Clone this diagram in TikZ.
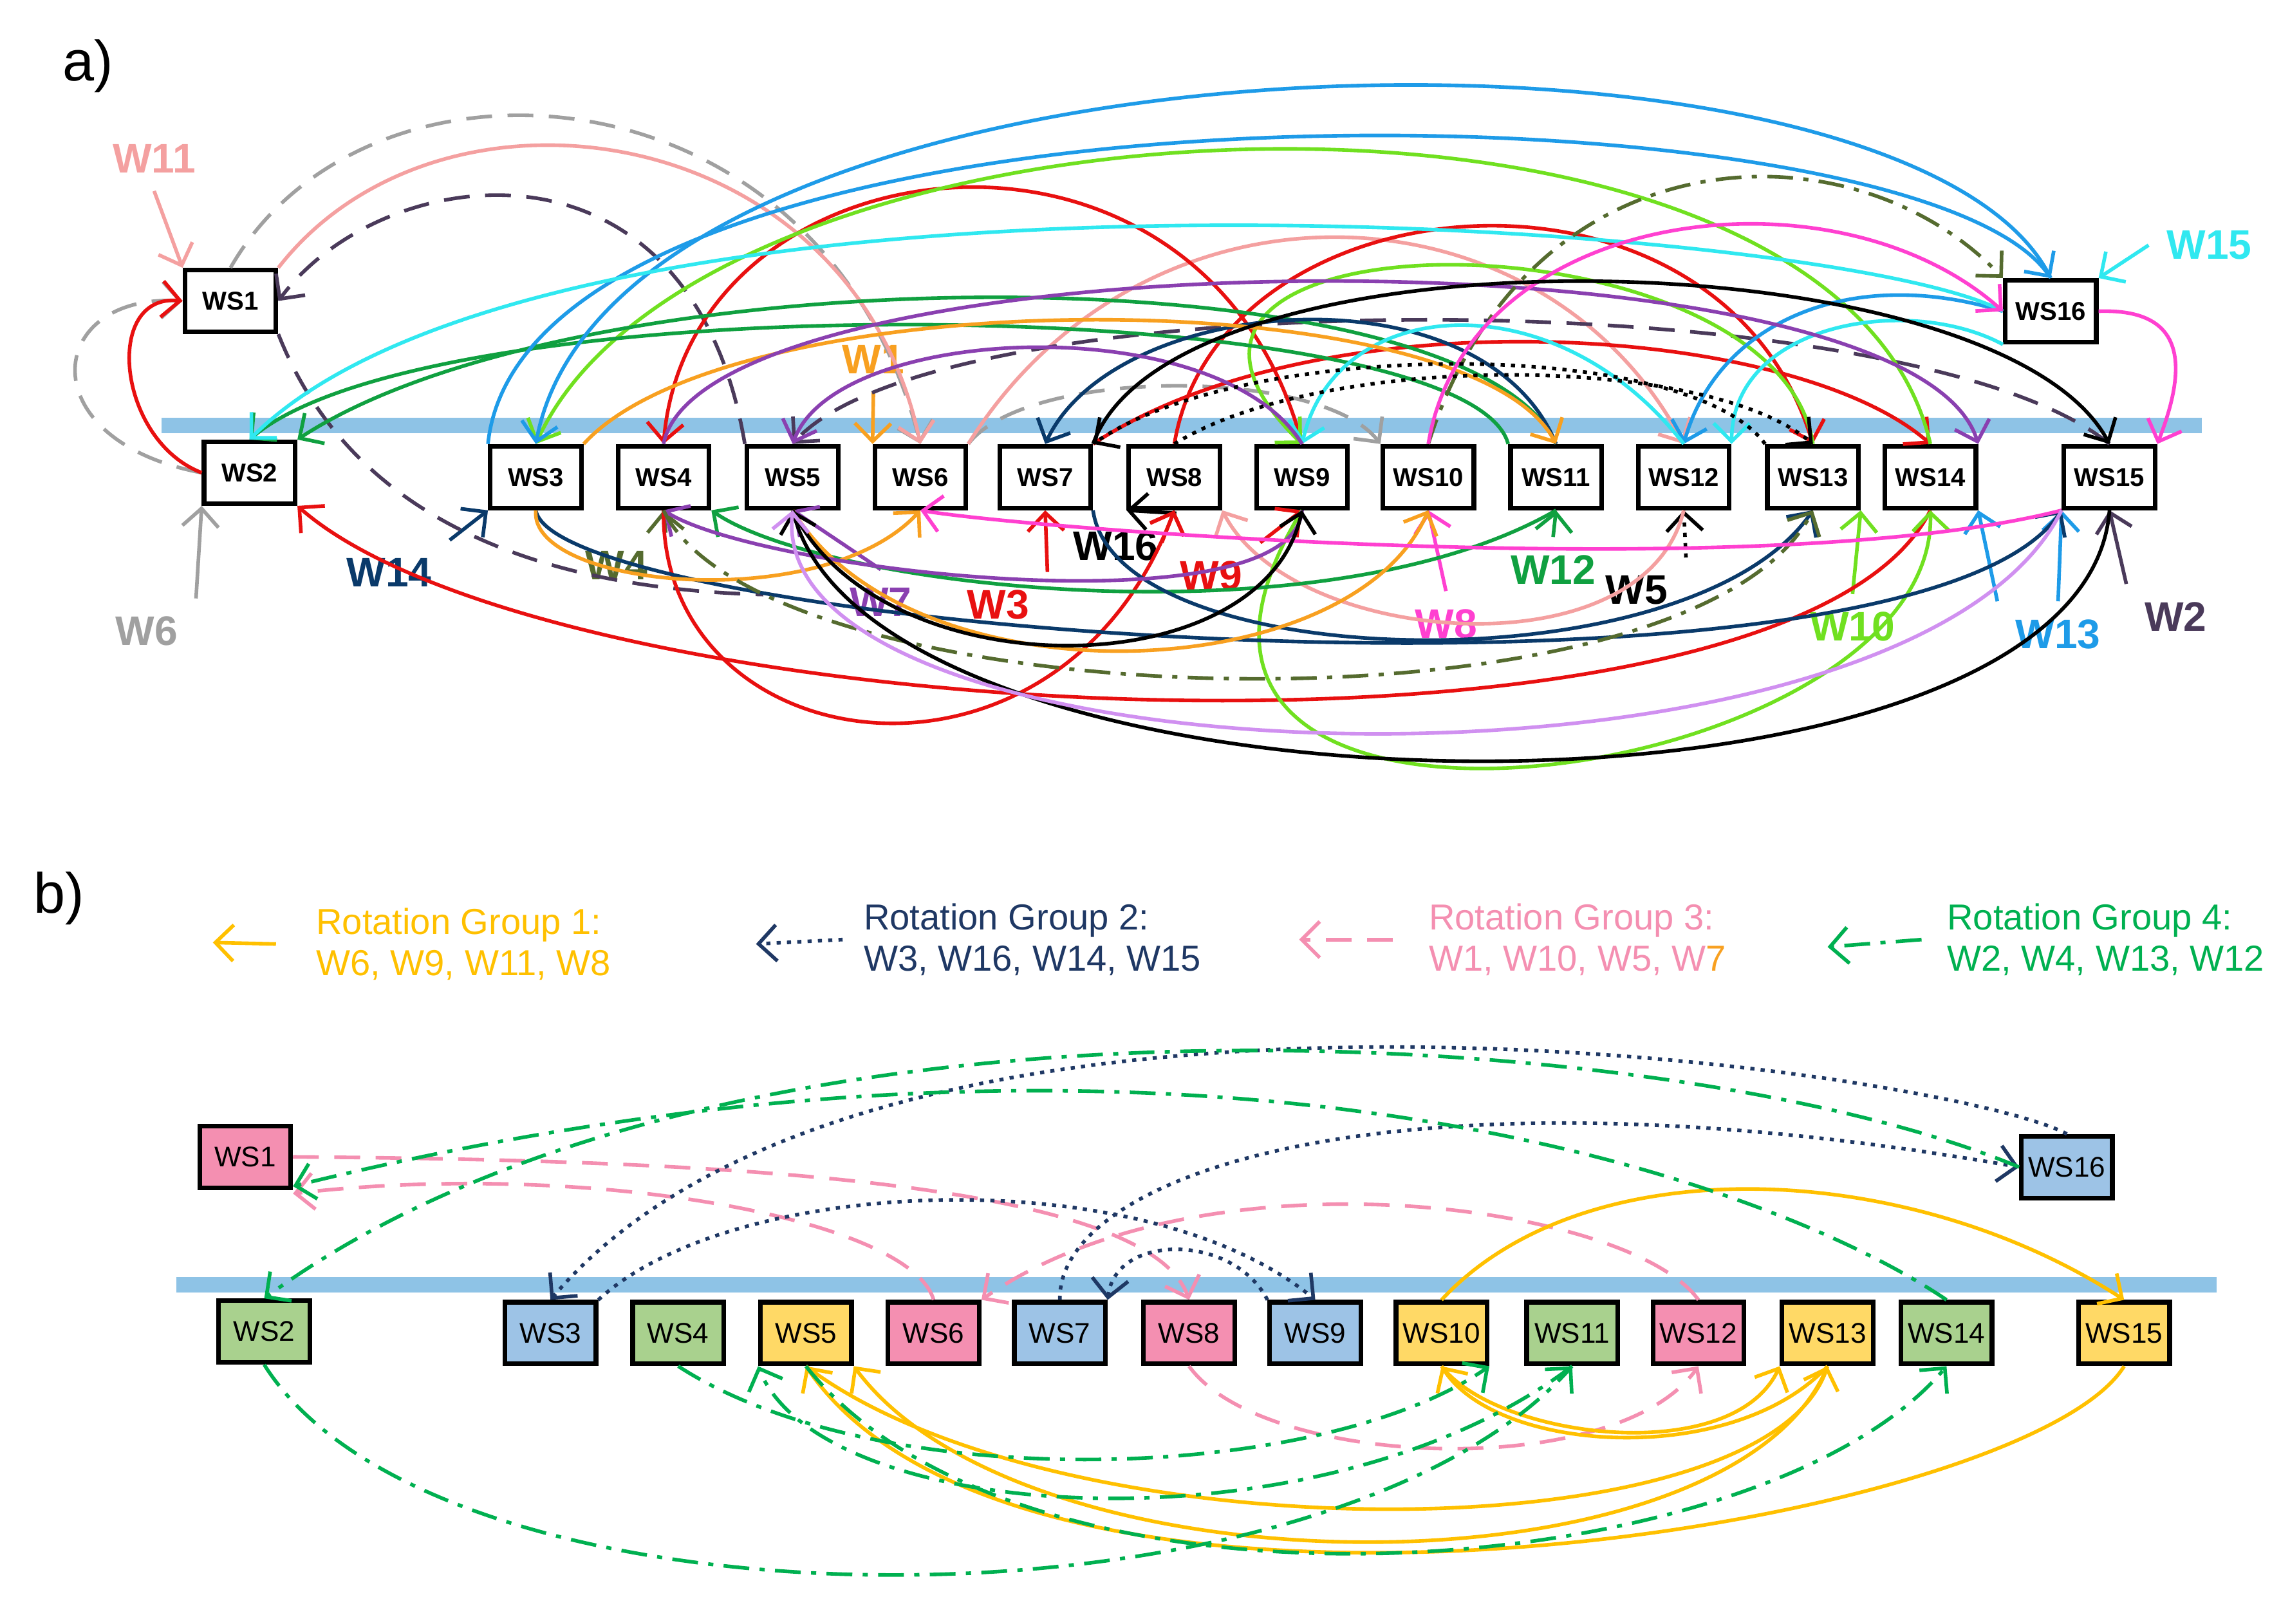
\documentclass[tikz,border=0pt]{standalone}
\usepackage{fontspec}
\setmainfont{Liberation Sans}
\usetikzlibrary{arrows.meta}
\definecolor{salmon}{HTML}{F4A0A0}\definecolor{gry}{HTML}{A0A0A0}
\definecolor{dpurp}{HTML}{4A3A5A}\definecolor{rd}{HTML}{E81010}
\definecolor{lgreen}{HTML}{70E020}\definecolor{grn}{HTML}{10A040}
\definecolor{navy}{HTML}{0A3A6A}\definecolor{blu}{HTML}{1E9BE8}
\definecolor{cyn}{HTML}{30E8F0}\definecolor{orn}{HTML}{F8A020}
\definecolor{purp}{HTML}{8A40B0}\definecolor{oliv}{HTML}{556B2F}
\definecolor{mag}{HTML}{FF40D0}\definecolor{lav}{HTML}{D090F0}
\definecolor{bar}{HTML}{8EC3E6}
\definecolor{gorange}{HTML}{FFC000}\definecolor{gnavy}{HTML}{1F3864}
\definecolor{gpink}{HTML}{F48FB1}\definecolor{ggreen}{HTML}{00B050}
\definecolor{fpink}{HTML}{F48FB1}\definecolor{fblue}{HTML}{9DC3E6}
\definecolor{fgreen}{HTML}{A9D18E}\definecolor{fyel}{HTML}{FFD966}
\tikzset{
 wa/.style={draw,line width=0.9pt,fill=white,minimum width=0.62cm,minimum height=0.42cm,inner sep=0pt,font=\fontsize{5}{6}\selectfont\bfseries},
 wb/.style={draw,line width=0.9pt,minimum width=0.62cm,minimum height=0.42cm,inner sep=0pt,font=\fontsize{5.5}{6}\selectfont},
 ar/.style={-{Straight Barb[length=3.5pt,width=7pt]},line width=0.7pt},
 lab/.style={font=\fontsize{8}{9}\selectfont\bfseries},
 dsh/.style={dash pattern=on 5pt off 3pt},
 ddot/.style={dash pattern=on 5pt off 2pt on 1pt off 2pt},
 dot/.style={dash pattern=on 0.8pt off 1.2pt},
}
\begin{document}
\begin{tikzpicture}[x=0.01cm,y=-0.01cm]
\useasboundingbox (0,0) rectangle (1560,1106);
% ---------- part a
\node[font=\fontsize{11}{12}\selectfont] at (60,45) {a)};
\draw[bar,line width=3pt] (110,290) -- (1500,290);
\node[wa] (a1) at (157,205) {WS1};
\node[wa] (a2) at (170,322) {WS2};
\foreach \i/\x in {3/365,4/452,5/540,6/627,7/712,8/800,9/887,10/973,11/1060,12/1147,13/1235,14/1315,15/1437}
  \node[wa] (a\i) at (\x,325) {WS\i};
\node[wa] (a16) at (1397,212) {WS16};
% labels
\node[lab,text=salmon] (lW11) at (105,108) {W11};
\node[lab,text=gry] (lW6) at (100,430) {W6};
\node[lab,text=dpurp] (lW2) at (1482,420) {W2};
\node[lab,text=rd] (lW3) at (680,412) {W3};
\node[lab,text=rd] (lW9) at (825,392) {W9};
\node[lab,text=lgreen] (lW10) at (1262,427) {W10};
\node[lab,text=grn] (lW12) at (1058,388) {W12};
\node[lab,text=navy] (lW14) at (265,390) {W14};
\node[lab,text=blu] (lW13) at (1402,432) {W13};
\node[lab,text=cyn] (lW15) at (1505,167) {W15};
\node[lab,text=orn] (lW1) at (595,245) {W1};
\node[lab,text=purp] (lW7) at (600,410) {W7};
\node[lab,text=oliv] (lW4) at (420,385) {W4};
\node[lab,text=mag] (lW8) at (985,425) {W8};
\node[lab,text=black] (lW16) at (760,372) {W16};
\node[lab,text=black] (lW5) at (1115,402) {W5};
% incoming worker arrows
\draw[ar,salmon] (lW11.south) -- (a1.north west);
\draw[ar,gry] (lW6.north east) -- (a2.south west);
\draw[ar,dpurp] (lW2.north west) -- (a15.south);
\draw[ar,rd] (lW3.north east) -- (a7.south);
\draw[ar,rd] (lW9.north west) -- (a8.south);
\draw[ar,rd] (lW9.north east) -- (a9.south);
\draw[ar,lgreen] (lW10.north) -- (a13.south east);
\draw[ar,grn] (lW12.north) -- (a11.south);
\draw[ar,navy] (lW14.north east) -- (a3.south west);
\draw[ar,blu] (lW13.north west) -- (a14.south east);
\draw[ar,blu] (lW13.north) -- (a15.south west);
\draw[ar,cyn] (lW15.west) -- (a16.north east);
\draw[ar,orn] (lW1.south) -- (a6.north west);
\draw[ar,purp] (lW7.north) -- (a5.south);
\draw[ar,oliv] (lW4.north east) -- (a4.south);
\draw[ar,mag] (lW8.north) -- (a10.south);
\draw[ar,black] (lW16.north east) -- (a8.south west);
\draw[ar,black,dot] (lW5.north east) -- (a12.south);
% gray dashed
\draw[ar,gry,dsh] (a2.west) .. controls (20,300) and (30,200) .. (a1.west);
\draw[ar,gry,dsh] (a1.north) .. controls (250,20) and (560,40) .. (a6.north);
\draw[ar,gry,dsh] (a6.north east) .. controls (700,250) and (900,250) .. (a10.north west);
% salmon
\draw[ar,salmon] (a1.north east) .. controls (300,40) and (580,80) .. (a6.north);
\draw[ar,salmon] (a6.north east) .. controls (780,110) and (1050,120) .. (a12.north);
\draw[ar,salmon] (a12.south) .. controls (1120,460) and (880,440) .. (a8.south east);
% dark purple dashed
\draw[ar,dpurp,dsh] (a15.north) .. controls (1300,190) and (640,190) .. (a5.north);
\draw[ar,dpurp,dsh] (a5.north west) .. controls (470,80) and (260,110) .. (a1.east);
\draw[dpurp,dsh,line width=0.7pt] (a1.south east) .. controls (230,330) and (330,400) .. (520,405);
% red
\draw[ar,rd] (a14.south) .. controls (1220,540) and (380,500) .. (a2.south east);
\draw[ar,rd] (a2.west) .. controls (80,300) and (70,200) .. (a1.west);
\draw[ar,rd] (a4.south) .. controls (450,520) and (720,560) .. (a8.south);
\draw[ar,rd] (a9.north) .. controls (820,50) and (470,90) .. (a4.north);
\draw[ar,rd] (a8.north) .. controls (830,120) and (1170,90) .. (a13.north);
\draw[ar,rd] (a7.north east) .. controls (900,200) and (1220,220) .. (a14.north);
% light green
\draw[ar,lgreen] (a14.north) .. controls (1250,20) and (480,50) .. (a3.north);
\draw[ar,lgreen] (a13.north) .. controls (1210,140) and (720,140) .. (a9.north);
\draw[ar,lgreen] (a9.south) .. controls (720,620) and (1320,540) .. (a14.south);
% green
\draw[ar,grn] (a11.north) .. controls (1000,170) and (400,170) .. (a2.north east);
\draw[ar,grn] (a11.north west) .. controls (1000,200) and (300,190) .. (a2.north);
\draw[ar,grn] (a11.south) .. controls (900,440) and (560,400) .. (a4.south east);
% navy
\draw[ar,navy] (a3.south) .. controls (380,430) and (1300,500) .. (a15.south west);
\draw[ar,navy] (a11.north) .. controls (1010,180) and (760,200) .. (a7.north);
\draw[ar,navy] (a7.south east) .. controls (760,460) and (1150,470) .. (a13.south);
% blue
\draw[ar,blu] (a16.north) .. controls (1300,-10) and (420,10) .. (a3.north);
\draw[ar,blu] (a3.north west) .. controls (360,40) and (1300,50) .. (a16.north);
\draw[ar,blu] (a16.west) .. controls (1260,180) and (1170,220) .. (a12.north);
% cyan
\draw[ar,cyn] (a16.west) .. controls (1250,150) and (380,90) .. (a2.north);
\draw[ar,cyn] (a12.north) .. controls (1060,190) and (910,200) .. (a9.north);
\draw[ar,cyn] (a16.south west) .. controls (1300,200) and (1180,220) .. (a12.north east);
% orange
\draw[ar,orn] (a3.north east) .. controls (500,190) and (1000,190) .. (a11.north);
\draw[ar,orn] (a5.south) .. controls (620,480) and (920,470) .. (a10.south);
\draw[ar,orn] (a3.south) .. controls (360,400) and (560,420) .. (a6.south);
% purple
\draw[ar,purp] (a4.north) .. controls (480,160) and (1300,150) .. (a14.north east);
\draw[ar,purp] (a9.north) .. controls (830,210) and (570,220) .. (a5.north);
\draw[ar,purp] (a9.south) .. controls (880,430) and (520,390) .. (a4.south);
% olive dash-dot
\draw[ar,oliv,ddot] (a4.south) .. controls (520,490) and (1150,510) .. (a13.south);
\draw[ar,oliv,ddot] (a10.north) .. controls (1040,90) and (1260,80) .. (a16.north west);
% magenta
\draw[ar,mag] (a10.north) .. controls (1000,140) and (1250,110) .. (a16.west);
\draw[ar,mag] (a16.east) .. controls (1490,210) and (1490,250) .. (a15.north east);
\draw[ar,mag] (a15.south west) .. controls (1200,400) and (700,360) .. (a6.south);
% black
\draw[ar,black] (a15.south) .. controls (1420,580) and (600,570) .. (a5.south);
\draw[ar,black] (a7.north east) .. controls (800,150) and (1360,160) .. (a15.north);
\draw[ar,black] (a5.south) .. controls (600,470) and (860,470) .. (a9.south);
\draw[ar,black,dot] (a8.north) .. controls (900,240) and (1160,240) .. (a13.north);
\draw[ar,black,dot] (a13.north west) .. controls (1150,230) and (850,230) .. (a7.north east);
% lavender
\draw[ar,lav] (a15.south west) .. controls (1300,560) and (520,540) .. (a5.south);
% ---------- part b
\node[font=\fontsize{11}{12}\selectfont] at (40,612) {b)};
\node[align=left,anchor=west,text=gorange,font=\fontsize{7}{8}\selectfont] (g1) at (203,643) {Rotation Group 1:\\W6, W9, W11, W8};
\node[align=left,anchor=west,text=gnavy,font=\fontsize{7}{8}\selectfont] (g2) at (576,640) {Rotation Group 2:\\W3, W16, W14, W15};
\node[align=left,anchor=west,text=gpink,font=\fontsize{7}{8}\selectfont] (g3) at (961,640) {Rotation Group 3:\\W1, W10, W5, W\textcolor{orn}{7}};
\node[align=left,anchor=west,text=ggreen,font=\fontsize{7}{8}\selectfont] (g4) at (1314,640) {Rotation Group 4:\\W2, W4, W13, W12};
\coordinate (c1) at (145,642); \draw[ar,gorange] ([xshift=-0.15cm]g1.west) -- (c1);
\coordinate (c2) at (515,643); \draw[ar,gnavy,dot] ([xshift=-0.02cm]g2.west) -- (c2);
\coordinate (c3) at (885,640); \draw[ar,gpink,dsh] ([xshift=-0.12cm]g3.west) -- (c3);
\coordinate (c4) at (1245,645); \draw[ar,ggreen,ddot] ([xshift=-0.05cm]g4.west) -- (c4);
\draw[bar,line width=3pt] (120,875) -- (1510,875);
\node[wb,fill=fpink] (b1) at (167,788) {WS1};
\node[wb,fill=fgreen] (b2) at (180,907) {WS2};
\node[wb,fill=fblue] (b16) at (1408,795) {WS16};
\foreach \i/\x/\c in {3/375/fblue,4/462/fgreen,5/549/fyel,6/636/fpink,7/722/fblue,8/810/fpink,9/896/fblue,10/982/fyel,11/1071/fgreen,12/1157/fpink,13/1245/fyel,14/1326/fgreen,15/1447/fyel}
  \node[wb,fill=\c] (b\i) at (\x,908) {WS\i};
% pink dashed
\draw[ar,gpink,dsh] (b1.east) .. controls (450,790) and (780,800) .. (b8.north);
\draw[ar,gpink,dsh] (b6.north) .. controls (620,830) and (400,790) .. ([yshift=-0.25cm]b1.east);
\draw[ar,gpink,dsh] (b12.north) .. controls (1110,820) and (820,780) .. (b6.north east);
\draw[ar,gpink,dsh] (b8.south) .. controls (860,1000) and (1100,1010) .. (b12.south);
% navy dotted
\draw[ar,gnavy,dot] (b3.north east) .. controls (500,800) and (780,790) .. (b9.north);
\draw[ar,gnavy,dot] (b9.north west) .. controls (840,840) and (760,840) .. (b7.north east);
\draw[ar,gnavy,dot] (b7.north) .. controls (720,800) and (950,720) .. (b16.west);
\draw[ar,gnavy,dot] (b16.north) .. controls (1330,730) and (600,620) .. (b3.north);
% orange
\draw[ar,gorange] (b10.north) .. controls (1080,780) and (1300,790) .. (b15.north);
\draw[ar,gorange] (b15.south) .. controls (1380,1040) and (700,1150) .. (b5.south);
\draw[ar,gorange] (b5.south) .. controls (720,1060) and (1200,1060) .. (b13.south);
\draw[ar,gorange] (b13.south) .. controls (1180,1000) and (1020,990) .. (b10.south);
\draw[ar,gorange] (b10.south) .. controls (1020,980) and (1180,1000) .. (b13.south west);
\draw[ar,gorange] (b13.south) .. controls (1180,1090) and (700,1090) .. (b5.south east);
% green dash-dot
\draw[ar,ggreen,ddot] (b2.south) .. controls (300,1120) and (900,1120) .. (b11.south);
\draw[ar,ggreen,ddot] (b4.south) .. controls (600,1020) and (900,1010) .. (b10.south east);
\draw[ar,ggreen,ddot] (b11.south) .. controls (900,1060) and (560,1040) .. (b5.south west);
\draw[ar,ggreen,ddot] (b5.south) .. controls (700,1120) and (1200,1080) .. (b14.south);
\draw[ar,ggreen,ddot] (b14.north) .. controls (1200,800) and (800,660) .. ([yshift=-0.2cm]b1.east);
\draw[ar,ggreen,ddot] (b16.west) .. controls (1150,700) and (500,650) .. (b2.north);
\end{tikzpicture}
\end{document}
